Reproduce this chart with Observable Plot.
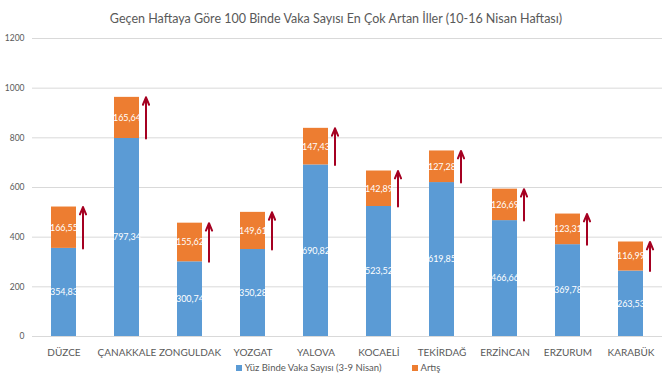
<!DOCTYPE html>
<html>
<head>
<meta charset="utf-8">
<script src="https://cdn.jsdelivr.net/npm/d3@7"></script>
<script src="https://cdn.jsdelivr.net/npm/@observablehq/plot@0.6"></script>
<style>
  body { margin: 0; background: #fff; width: 668px; height: 382px; overflow: hidden; font-family: Lato, "Open Sans", sans-serif; }
  #title { height: 30px; line-height: 30px; text-align: center; font-size: 12.5px; color: #595959; position: relative; top: 4px; padding-left: 4px; }
  #chart svg { display: block; }
  #legend { height: 22px; line-height: 16px; text-align: center; font-size: 9.5px; color: #595959; padding-left: 8px; }
  .sw { display: inline-block; width: 6px; height: 6px; margin-right: 3px; vertical-align: 0px; }
  .item { margin: 0 15px; }
</style>
</head>
<body>
<div id="title">Geçen Haftaya Göre 100 Binde Vaka Sayısı En Çok Artan İller (10-16 Nisan Haftası)</div>
<div id="chart"></div>
<div id="legend"></div>
<script>
const provinces = ["DÜZCE", "ÇANAKKALE", "ZONGULDAK", "YOZGAT", "YALOVA", "KOCAELİ", "TEKİRDAĞ", "ERZİNCAN", "ERZURUM", "KARABÜK"];
const baseValues = [354.83, 797.34, 300.74, 350.28, 690.82, 523.52, 619.85, 466.66, 369.78, 263.53];
const increases = [166.55, 165.64, 155.62, 149.61, 147.43, 142.89, 127.28, 126.69, 123.31, 116.99];
const seriesNames = ["Yüz Binde Vaka Sayısı (3-9 Nisan)", "Artış"];
const seriesColors = ["#5b9bd5", "#ed7d31"];
const yTicks = [0, 200, 400, 600, 800, 1000, 1200];

const fmt = v => v.toFixed(2).replace(".", ",");

const segments = provinces.flatMap((p, i) => [
  {p, s: seriesNames[0], y1: 0, y2: baseValues[i], mid: baseValues[i] / 2, label: fmt(baseValues[i])},
  {p, s: seriesNames[1], y1: baseValues[i], y2: baseValues[i] + increases[i], mid: baseValues[i] + increases[i] / 2, label: fmt(increases[i])}
]);
const arrows = provinces.map((p, i) => ({p, from: baseValues[i], to: baseValues[i] + increases[i]}));

const chart = Plot.plot({
  width: 668,
  height: 330,
  marginTop: 8,
  marginBottom: 24,
  marginLeft: 32,
  marginRight: 6,
  style: {fontFamily: "Lato, 'Open Sans', sans-serif", color: "#595959", background: "#fff"},
  x: {domain: provinces, paddingInner: 0.6, paddingOuter: 0.3, label: null},
  y: {domain: [0, 1200], ticks: yTicks, label: null},
  color: {domain: seriesNames, range: seriesColors},
  marks: [
    Plot.gridY(yTicks, {stroke: "#d9d9d9", strokeOpacity: 1, strokeWidth: 1}),
    Plot.barY(segments, {x: "p", y1: "y1", y2: "y2", fill: "s"}),
    Plot.text(segments, {x: "p", y: "mid", text: "label", fill: "#fff", fontSize: 9}),
    Plot.arrow(arrows, {x1: "p", x2: "p", y1: "from", y2: "to", dx: 19, stroke: "#a50021", strokeWidth: 2, headLength: 6, headAngle: 45}),
    Plot.axisY(yTicks, {tickSize: 0, tickPadding: 8, fontSize: 8.5, fill: "#595959", label: null, tickFormat: d => String(d)}),
    Plot.axisX({tickSize: 0, tickPadding: 12, fontSize: 10, fill: "#595959", label: null})
  ]
});
document.getElementById("chart").appendChild(chart);

const legend = document.getElementById("legend");
seriesNames.forEach((name, i) => {
  const item = document.createElement("span");
  item.className = "item";
  const sw = document.createElement("span");
  sw.className = "sw";
  sw.style.background = seriesColors[i];
  item.appendChild(sw);
  item.appendChild(document.createTextNode(name));
  legend.appendChild(item);
});
</script>
</body>
</html>
